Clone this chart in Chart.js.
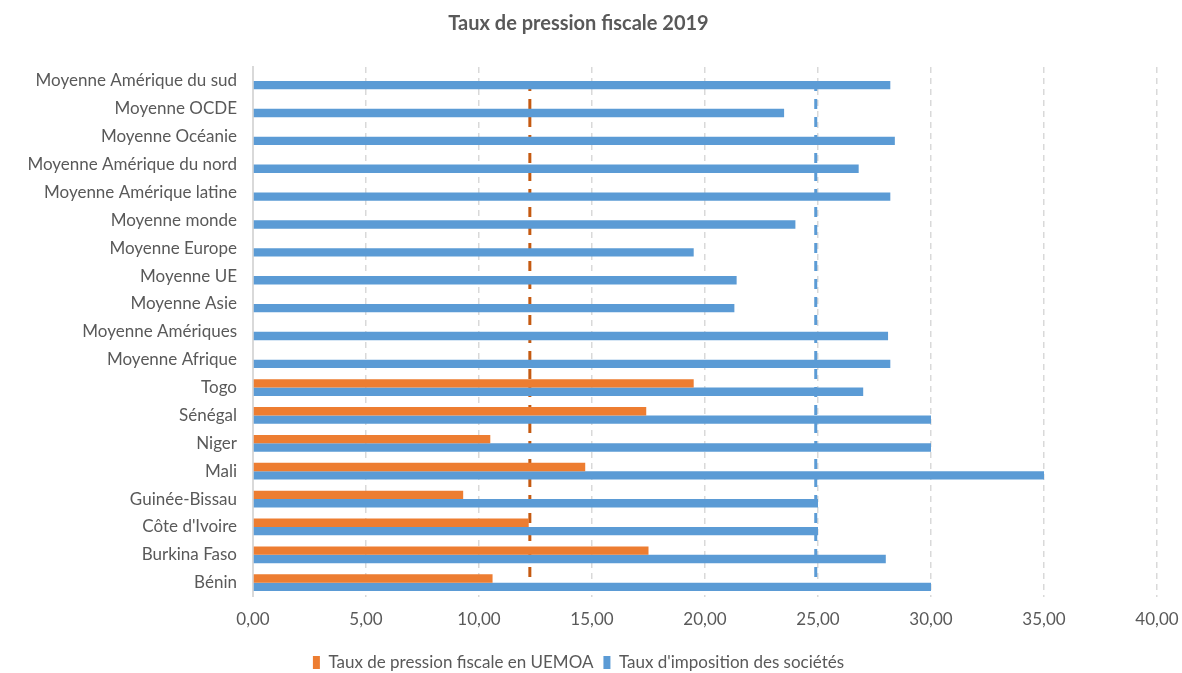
<!DOCTYPE html>
<html>
<head>
<meta charset="utf-8">
<script src="https://cdn.jsdelivr.net/npm/chart.js@4/dist/chart.umd.min.js"></script>
<style>
    body { margin: 0; background: #ffffff; }
    #wrap { width: 1182px; height: 673px; }
</style>
</head>
<body>
<div id="wrap"><canvas id="taxChart" width="1182" height="673"></canvas></div>
<script>
// categories, top to bottom as shown
const categories = [
    "Moyenne Amérique du sud", "Moyenne OCDE", "Moyenne Océanie", "Moyenne Amérique du nord",
    "Moyenne Amérique latine", "Moyenne monde", "Moyenne Europe", "Moyenne UE", "Moyenne Asie",
    "Moyenne Amériques", "Moyenne Afrique", "Togo", "Sénégal", "Niger", "Mali",
    "Guinée-Bissau", "Côte d'Ivoire", "Burkina Faso", "Bénin"
];
const pressionUemoa = [null, null, null, null, null, null, null, null, null, null, null,
    19.5, 17.4, 10.5, 14.7, 9.3, 12.2, 17.5, 10.6];
const impositionSocietes = [28.2, 23.5, 28.4, 26.8, 28.2, 24.0, 19.5, 21.4, 21.3, 28.1, 28.2,
    27.0, 30.0, 30.0, 35.0, 25.0, 25.0, 28.0, 30.0];
const moyennePression = 12.25;
const moyenneImposition = 24.9;
const xMin = 0, xMax = 40, xStep = 5;

const grey = '#595959';
Chart.defaults.font.family = 'Lato, "Open Sans", sans-serif';
Chart.defaults.color = grey;

function verticalLine(value) {
    return [
        { x: value, y: categories[0] },
        { x: value, y: categories[categories.length - 1] }
    ];
}

const ctx = document.getElementById('taxChart').getContext('2d');

new Chart(ctx, {
    type: 'bar',
    data: {
        labels: categories,
        datasets: [
            {
                label: 'Taux de pression fiscale en UEMOA',
                data: pressionUemoa,
                backgroundColor: '#ed7d31',
                categoryPercentage: 0.6,
                barPercentage: 1.0
            },
            {
                label: "Taux d'imposition des sociétés",
                data: impositionSocietes,
                backgroundColor: '#5b9bd5',
                categoryPercentage: 0.6,
                barPercentage: 1.0
            },
            {
                type: 'line',
                label: 'moyenne pression',
                data: verticalLine(moyennePression),
                indexAxis: 'y',
                borderColor: '#c55a11',
                borderWidth: 3,
                borderDash: [10, 8],
                pointRadius: 0,
                fill: false
            },
            {
                type: 'line',
                label: 'moyenne imposition',
                data: verticalLine(moyenneImposition),
                indexAxis: 'y',
                borderColor: '#5b9bd5',
                borderWidth: 3,
                borderDash: [10, 8],
                pointRadius: 0,
                fill: false
            }
        ]
    },
    options: {
        indexAxis: 'y',
        responsive: false,
        animation: false,
        layout: { padding: { left: 0, right: 25, top: 0, bottom: -8 } },
        scales: {
            x: {
                min: xMin,
                max: xMax,
                ticks: {
                    stepSize: xStep,
                    padding: 13,
                    font: { size: 17 },
                    callback: (v) => v.toFixed(2).replace('.', ',')
                },
                grid: { color: '#d9d9d9', lineWidth: 1.5, drawTicks: false },
                border: { display: false, dash: [6, 5] },
                afterFit: (scale) => { scale.height += 1; scale.paddingRight = 0; }
            },
            y: {
                ticks: { padding: 16, font: { size: 17 } },
                grid: { display: false, drawTicks: false },
                border: { display: true, color: '#d9d9d9', width: 2 },
                afterFit: (scale) => { scale.width = 253; }
            }
        },
        plugins: {
            title: {
                display: true,
                text: 'Taux de pression fiscale 2019',
                color: grey,
                font: { size: 20, weight: 'bold' },
                padding: { top: 12, bottom: 31 }
            },
            legend: {
                position: 'bottom',
                labels: {
                    boxWidth: 7,
                    boxHeight: 13,
                    padding: 10,
                    font: { size: 17 },
                    filter: (item) => item.datasetIndex < 2
                }
            },
            tooltip: { enabled: false }
        }
    }
});
</script>
</body>
</html>
